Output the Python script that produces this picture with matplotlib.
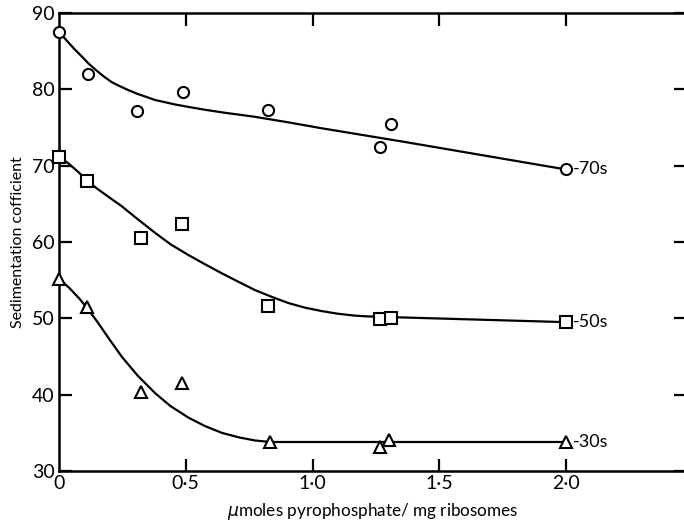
import matplotlib
matplotlib.use("Agg")
import matplotlib.pyplot as plt

plt.rcParams['font.family'] = ['Lato', 'DejaVu Sans']

# measured points (umoles pyrophosphate / mg ribosomes, sedimentation coefficient)
x_70 = [0.0, 0.116, 0.306, 0.49, 0.826, 1.266, 1.31, 2.0]
y_70 = [87.55, 82.0, 77.2, 79.6, 77.3, 72.4, 75.4, 69.5]

x_50 = [0.0, 0.112, 0.323, 0.486, 0.826, 1.266, 1.308, 2.0]
y_50 = [71.2, 68.0, 60.5, 62.35, 51.6, 49.85, 50.1, 49.5]

x_30 = [0.0, 0.112, 0.323, 0.484, 0.832, 1.266, 1.303, 2.0]
y_30 = [55.2, 51.5, 40.3, 41.55, 33.8, 33.2, 34.0, 33.8]

# hand-drawn smooth curves through each set
cx_70 = [0.0, 0.03, 0.06, 0.09, 0.116, 0.15, 0.18, 0.21, 0.247, 0.28, 0.31, 0.345,
         0.379, 0.42, 0.46, 0.51, 0.58, 0.65, 0.773, 0.9, 1.036, 1.365, 2.0]
cy_70 = [87.55, 86.4, 85.3, 84.3, 83.4, 82.4, 81.6, 80.9, 80.3, 79.8, 79.4, 79.0,
         78.6, 78.3, 78.0, 77.7, 77.3, 76.95, 76.4, 75.7, 74.9, 73.1, 69.5]

cx_50 = [0.0, 0.037, 0.075, 0.112, 0.15, 0.2, 0.247, 0.31, 0.379, 0.44, 0.51, 0.575,
         0.642, 0.71, 0.773, 0.84, 0.905, 0.97, 1.036, 1.1, 1.168, 1.22, 1.266, 2.0]
cy_50 = [71.2, 70.3, 69.2, 68.0, 67.0, 65.8, 64.7, 63.0, 61.2, 59.7, 58.3, 57.1,
         55.9, 54.75, 53.7, 52.8, 52.0, 51.4, 50.95, 50.6, 50.35, 50.25, 50.2, 49.5]

cx_30 = [0.0, 0.04, 0.08, 0.112, 0.15, 0.2, 0.247, 0.31, 0.379, 0.44, 0.51, 0.575,
         0.642, 0.71, 0.773, 0.832, 2.0]
cy_30 = [55.2, 54.0, 52.6, 51.3, 49.6, 47.2, 45.0, 42.5, 40.2, 38.5, 37.0, 35.9,
         35.0, 34.4, 34.0, 33.8, 33.8]

x_ticks = [0, 0.5, 1.0, 1.5, 2.0]
x_ticklabels = ['0', '0·5', '1·0', '1·5', '2·0']
y_ticks = [30, 40, 50, 60, 70, 80, 90]
series_labels = ['70s', '50s', '30s']

fig = plt.figure(figsize=(6.84, 5.25), dpi=100)
ax = fig.add_axes([59 / 684, 1 - 471 / 525, 627 / 684, 458 / 525])

for cx, cy in [(cx_70, cy_70), (cx_50, cy_50), (cx_30, cy_30)]:
    ax.plot(cx, cy, color='black', lw=1.6, solid_joinstyle='round')

mk = dict(ls='none', mfc='white', mec='black', mew=1.5, ms=8, clip_on=False, zorder=3)
ax.plot(x_70, y_70, marker='o', **mk)
ax.plot(x_50, y_50, marker='s', **mk)
ax.plot(x_30, y_30, marker='^', **mk)

# end labels with the little lead-in dash
for lab, xs, ys in zip(series_labels, [x_70, x_50, x_30], [y_70, y_50, y_30]):
    ax.annotate('-' + lab, (xs[-1], ys[-1]), xytext=(5, 0), textcoords='offset points',
                ha='left', va='center', fontsize=13)

ax.set_xlim(0, 2.473)
ax.set_ylim(30, 90)
ax.set_xticks(x_ticks)
ax.set_xticklabels(x_ticklabels)
ax.set_yticks(y_ticks)

ax.tick_params(direction='in', length=9, width=1.6, labelsize=14, pad=3,
               top=True, right=True)
for t in ax.yaxis.get_major_ticks():
    if t.get_loc() in (30, 90):
        t.tick1line.set_visible(False)
        t.tick2line.set_visible(False)
for t in ax.xaxis.get_major_ticks():
    if t.get_loc() == 0:
        t.tick1line.set_visible(False)
        t.tick2line.set_visible(False)

for s in ax.spines.values():
    s.set_linewidth(1.8)

ax.set_ylabel('Sedimentation cofficient', fontsize=11.5, labelpad=5)
ax.set_xlabel('$\\mu$moles pyrophosphate/ mg ribosomes', fontsize=12.3, labelpad=6)

fig.savefig('out.png', dpi=100)
